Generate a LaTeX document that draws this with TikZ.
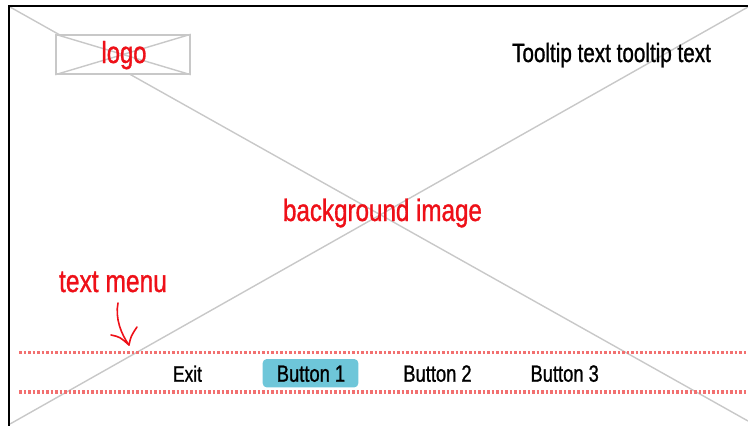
\documentclass[tikz,border=0pt]{standalone}
\usepackage{fontspec}
\setmainfont{Liberation Sans}[FakeStretch=0.78,FakeBold=1]
\definecolor{wire}{RGB}{200,200,200}
\definecolor{menured}{RGB}{242,112,112}
\definecolor{btnblue}{RGB}{110,198,217}
\definecolor{notered}{RGB}{238,16,24}
\begin{document}
\begin{tikzpicture}[x=1pt,y=-1pt,
  wireline/.style={draw=wire,line width=1.4pt},
  frameline/.style={draw=black,line width=2pt},
  menuline/.style={draw=menured,line width=3.5pt,dash pattern=on 2.7pt off 1.8pt},
  note/.style={text=notered,inner sep=0pt,anchor=base},
  uitext/.style={text=black,inner sep=0pt,anchor=base},
  sz/.style={font=\fontsize{#1}{#1}\selectfont}]
\useasboundingbox (0,0) rectangle (748,426);
\clip (0,0) rectangle (748,426);

% placeholder image: crossed rectangle
\coordinate (tl) at (10,7);
\coordinate (br) at (748,421);
\coordinate (tr) at (748,7);
\coordinate (bl) at (10,424);
\draw[wireline] (tl) -- (br);
\draw[wireline] (tr) -- (bl);

% screen frame (left and top edges)
\coordinate (fbl) at (9,430);
\coordinate (ftl) at (9,6);
\coordinate (ftr) at (752,6);
\draw[frameline] (fbl) -- (ftl) -- (ftr);

% logo placeholder
\node[wireline,fill=white,minimum width=134pt,minimum height=39pt,inner sep=0pt] (logobox) at (123,54.5) {};
\draw[wireline] (logobox.north west) -- (logobox.south east);
\draw[wireline] (logobox.north east) -- (logobox.south west);
\node[note,sz=30.5] (logo) at (124,63) {logo};

% tooltip
\node[uitext,sz=26.5] (tooltip) at (611.5,62) {Tooltip text tooltip text};

% background label
\node[note,sz=31] (bglabel) at (382.5,221) {background image};

% text menu annotation
\node[note,sz=31.5] (menulabel) at (113,292) {text menu};
\coordinate (arrtop) at (118,303);
\coordinate (arrtip) at (129,345);
\coordinate (arrl) at (111,335);
\coordinate (arrr) at (137,327);
\draw[notered,line width=1.6pt,line cap=round] (arrtop) .. controls (115,318) and (121,334) .. (arrtip);
\draw[notered,line width=1.6pt,line cap=round,line join=round] (arrl) .. controls (120,337) .. (arrtip) .. controls (131,336) .. (arrr);

% menu bar boundaries
\coordinate (m1a) at (19,352.5);
\coordinate (m1b) at (750,352.5);
\coordinate (m2a) at (19,391.8);
\coordinate (m2b) at (750,391.8);
\draw[menuline] (m1a) -- (m1b);
\draw[menuline] (m2a) -- (m2b);

% menu items
\node[uitext,sz=22.3] (exit) at (187.5,381.7) {Exit};
\node[fill=btnblue,rounded corners=4pt,minimum width=95.6pt,minimum height=28.3pt,inner sep=0pt] (b1box) at (310.5,373.2) {};
\node[uitext,sz=23.5] (b1) at (311,381.7) {Button 1};
\node[uitext,sz=23.5] (b2) at (437.5,381.7) {Button 2};
\node[uitext,sz=23.5] (b3) at (564.7,381.7) {Button 3};
\end{tikzpicture}
\end{document}
